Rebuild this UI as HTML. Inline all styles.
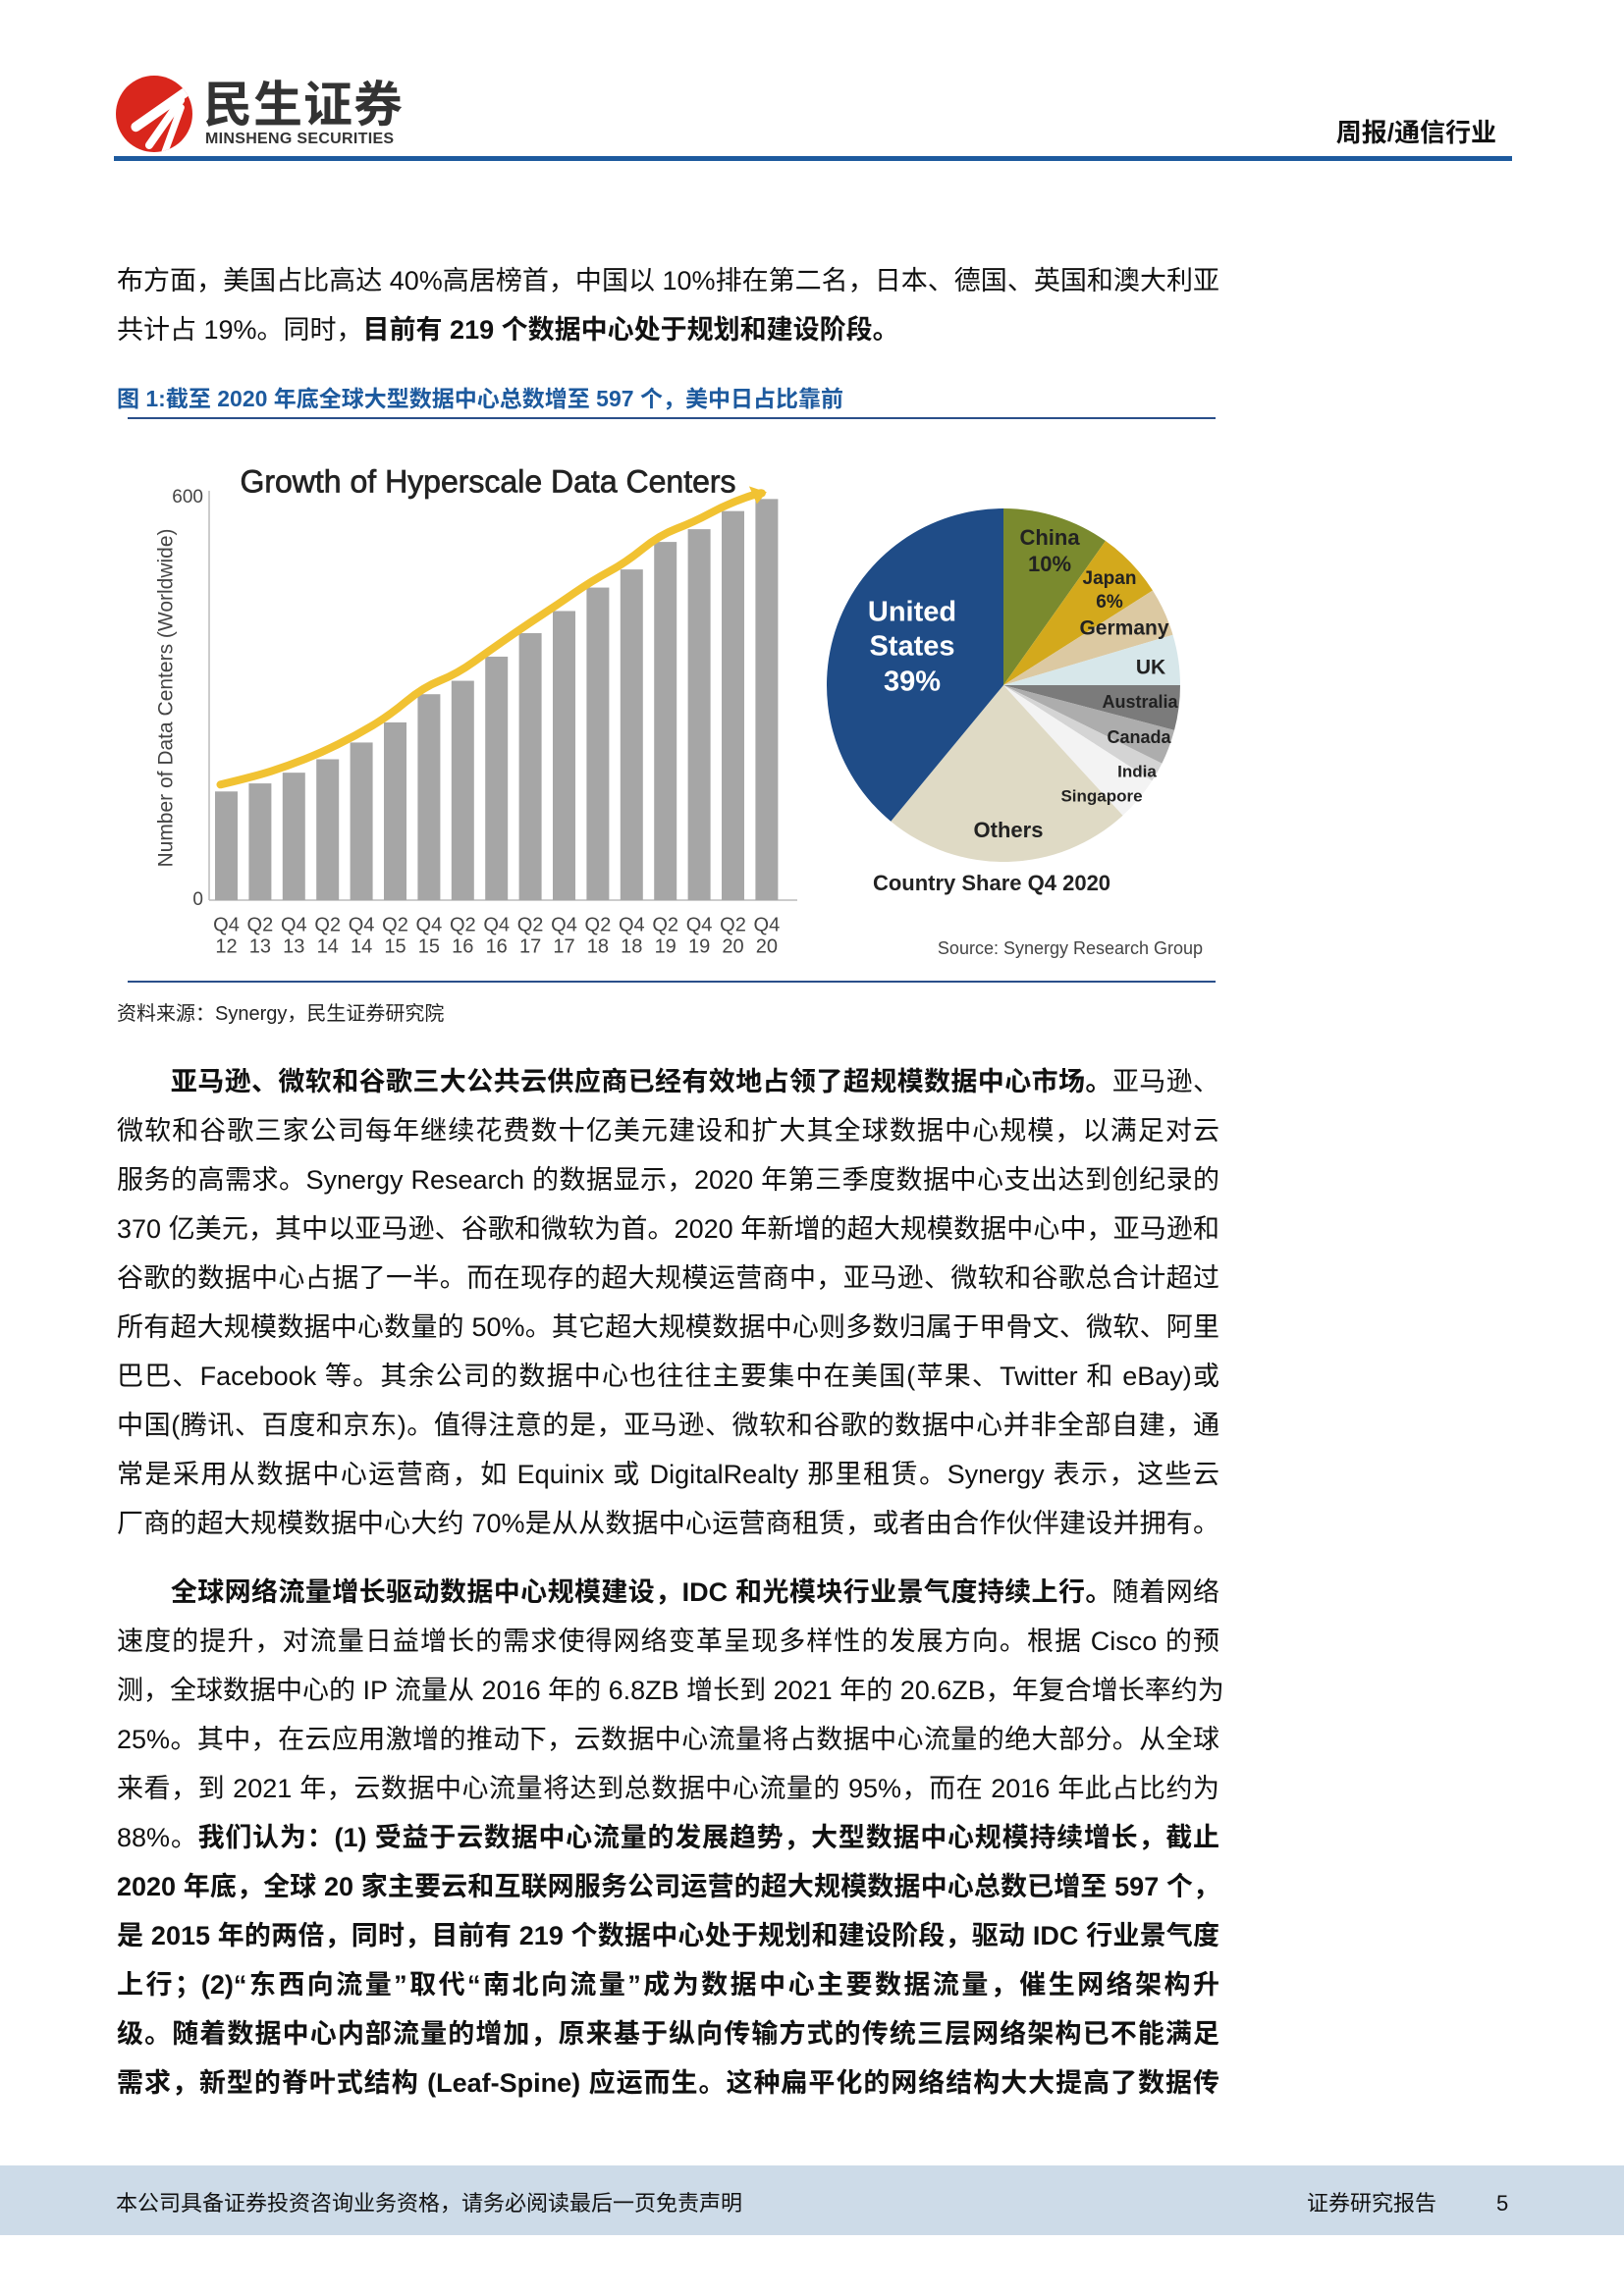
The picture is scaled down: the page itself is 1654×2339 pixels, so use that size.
<!DOCTYPE html>
<html><head><meta charset="utf-8">
<style>
body{margin:0;background:#fff;}
#page{position:relative;width:1654px;height:2339px;overflow:hidden;background:#fff;font-family:"Liberation Sans","Noto Sans CJK SC",sans-serif;color:#111;}
.ln{position:absolute;left:119px;width:1123px;font-size:27px;line-height:36px;height:36px;text-align:justify;text-align-last:justify;white-space:nowrap;overflow:visible;}
.ln.last{text-align-last:left;}
b{font-weight:bold;}
</style></head>
<body>
<div id="page">
  <div style="position:absolute;left:118px;top:77px;width:78px;height:78px;border-radius:50%;background:#d9261c;overflow:hidden;">
    <div style="position:absolute;left:10px;top:30px;width:70px;height:10px;background:#fff;transform:rotate(-35deg);border-radius:5px;"></div>
    <div style="position:absolute;left:18px;top:44px;width:64px;height:8px;background:#fff;transform:rotate(-55deg);border-radius:4px;"></div>
    <div style="position:absolute;left:30px;top:52px;width:56px;height:7px;background:#fff;transform:rotate(-70deg);border-radius:4px;"></div>
  </div>
  <div style="position:absolute;left:207px;top:76px;font-size:50px;font-weight:bold;color:#333;line-height:54px;letter-spacing:1px;font-family:'Noto Sans CJK SC',sans-serif;">民生证券</div>
  <div style="position:absolute;left:209px;top:133px;font-size:16px;font-weight:bold;color:#333;line-height:18px;letter-spacing:0.3px;">MINSHENG SECURITIES</div>
  <div style="position:absolute;right:130px;top:118px;font-size:26px;font-weight:bold;line-height:34px;color:#111;">周报/通信行业</div>
  <div style="position:absolute;left:116px;top:159px;width:1424px;height:5px;background:#1d5a9e;"></div>

  <div class="ln" style="top:268px;">布方面，美国占比高达 40%高居榜首，中国以 10%排在第二名，日本、德国、英国和澳大利亚</div>
  <div class="ln last" style="top:318px;">共计占 19%。同时，<b>目前有 219 个数据中心处于规划和建设阶段。</b></div>

  <div style="position:absolute;left:119px;top:390px;font-size:23px;font-weight:bold;color:#1d5a9e;line-height:32px;">图 1:截至 2020 年底全球大型数据中心总数增至 597 个，美中日占比靠前</div>
  <div style="position:absolute;left:130px;top:425px;width:1108px;height:2px;background:#2a4f8a;"></div>

  <svg id="chart" style="position:absolute;left:0;top:0;" width="1654" height="1010"></svg>
  <div style="position:absolute;left:130px;top:999px;width:1108px;height:2px;background:#2a4f8a;"></div>

  <div style="position:absolute;left:119px;top:1020px;font-size:20px;line-height:26px;color:#222;">资料来源：Synergy，民生证券研究院</div>

  <div class="ln" style="top:1084px;">　　<b>亚马逊、微软和谷歌三大公共云供应商已经有效地占领了超规模数据中心市场。</b>亚马逊、</div>
  <div class="ln" style="top:1134px;">微软和谷歌三家公司每年继续花费数十亿美元建设和扩大其全球数据中心规模，以满足对云</div>
  <div class="ln" style="top:1184px;">服务的高需求。Synergy Research 的数据显示，2020 年第三季度数据中心支出达到创纪录的</div>
  <div class="ln" style="top:1234px;">370 亿美元，其中以亚马逊、谷歌和微软为首。2020 年新增的超大规模数据中心中，亚马逊和</div>
  <div class="ln" style="top:1284px;">谷歌的数据中心占据了一半。而在现存的超大规模运营商中，亚马逊、微软和谷歌总合计超过</div>
  <div class="ln" style="top:1334px;">所有超大规模数据中心数量的 50%。其它超大规模数据中心则多数归属于甲骨文、微软、阿里</div>
  <div class="ln" style="top:1384px;">巴巴、Facebook 等。其余公司的数据中心也往往主要集中在美国(苹果、Twitter 和 eBay)或</div>
  <div class="ln" style="top:1434px;">中国(腾讯、百度和京东)。值得注意的是，亚马逊、微软和谷歌的数据中心并非全部自建，通</div>
  <div class="ln" style="top:1484px;">常是采用从数据中心运营商，如 Equinix 或 DigitalRealty 那里租赁。Synergy 表示，这些云</div>
  <div class="ln" style="top:1534px;">厂商的超大规模数据中心大约 70%是从从数据中心运营商租赁，或者由合作伙伴建设并拥有。</div>

  <div class="ln" style="top:1604px;">　　<b>全球网络流量增长驱动数据中心规模建设，IDC 和光模块行业景气度持续上行。</b>随着网络</div>
  <div class="ln" style="top:1654px;">速度的提升，对流量日益增长的需求使得网络变革呈现多样性的发展方向。根据 Cisco 的预</div>
  <div class="ln" style="top:1704px;">测，全球数据中心的 IP 流量从 2016 年的 6.8ZB 增长到 2021 年的 20.6ZB，年复合增长率约为</div>
  <div class="ln" style="top:1754px;">25%。其中，在云应用激增的推动下，云数据中心流量将占数据中心流量的绝大部分。从全球</div>
  <div class="ln" style="top:1804px;">来看，到 2021 年，云数据中心流量将达到总数据中心流量的 95%，而在 2016 年此占比约为</div>
  <div class="ln" style="top:1854px;">88%。<b>我们认为：(1) 受益于云数据中心流量的发展趋势，大型数据中心规模持续增长，截止</b></div>
  <div class="ln" style="top:1904px;"><b>2020 年底，全球 20 家主要云和互联网服务公司运营的超大规模数据中心总数已增至 597 个，</b></div>
  <div class="ln" style="top:1954px;"><b>是 2015 年的两倍，同时，目前有 219 个数据中心处于规划和建设阶段，驱动 IDC 行业景气度</b></div>
  <div class="ln" style="top:2004px;"><b>上行；(2)“东西向流量”取代“南北向流量”成为数据中心主要数据流量，催生网络架构升</b></div>
  <div class="ln" style="top:2054px;"><b>级。随着数据中心内部流量的增加，原来基于纵向传输方式的传统三层网络架构已不能满足</b></div>
  <div class="ln" style="top:2104px;"><b>需求，新型的脊叶式结构 (Leaf-Spine) 应运而生。这种扁平化的网络结构大大提高了数据传</b></div>

  <div style="position:absolute;left:0;top:2206px;width:1654px;height:71px;background:#cddbe8;"></div>
  <div style="position:absolute;left:118px;top:2229px;font-size:22px;line-height:32px;color:#111;">本公司具备证券投资咨询业务资格，请务必阅读最后一页免责声明</div>
  <div style="position:absolute;left:1331px;top:2229px;font-size:22px;line-height:32px;color:#111;">证券研究报告</div>
  <div style="position:absolute;left:1524px;top:2229px;font-size:22px;line-height:32px;color:#111;">5</div>
</div>
<script>
const categories=["Q4 12","Q2 13","Q4 13","Q2 14","Q4 14","Q2 15","Q4 15","Q2 16","Q4 16","Q2 17","Q4 17","Q2 18","Q4 18","Q2 19","Q4 19","Q2 20","Q4 20"];
const dcCounts=[162,174,190,210,235,265,307,327,363,398,431,466,493,534,553,580,598];
const yTicks=[0,600];
const pieLabels=["China","Japan","Germany","UK","Australia","Canada","India","Singapore","Others","United States"];
const pieShares=[9.8,6.2,4.4,4.6,4.1,3.2,1.8,4.1,22.8,39];

const NS="http://www.w3.org/2000/svg";
const svg=document.getElementById('chart');
function mk(tag,attrs,parent){const e=document.createElementNS(NS,tag);for(const k in attrs)e.setAttribute(k,attrs[k]);(parent||svg).appendChild(e);return e;}
const x0=219,pitch=34.4,bw=23,base=917,top600=507;
function yS(v){return base-(v/600)*(base-top600);}
function xC(i){return x0+bw/2+i*pitch;}

let t=mk('text',{x:497,y:493,'text-anchor':'middle','dominant-baseline':'middle','font-size':32,'font-family':'Liberation Sans, sans-serif',fill:'#222',stroke:'#222','stroke-width':0.7});
t.textContent='Growth of Hyperscale Data Centers';



let ax=mk('line',{x1:213,y1:500,x2:213,y2:base,stroke:'#bbb','stroke-width':1.5});


let bx=mk('line',{x1:213,y1:base,x2:812,y2:base,stroke:'#bbb','stroke-width':1.5});



yTicks.forEach(v=>{const e=mk('text',{x:207,y:yS(v),'text-anchor':'end','dominant-baseline':'middle','font-size':19,'font-family':'Liberation Sans, sans-serif',fill:'#444'});e.textContent=v;

});

let yl=mk('text',{x:0,y:0,transform:'translate(170,711) rotate(-90)','text-anchor':'middle','dominant-baseline':'middle','font-size':21,'font-family':'Liberation Sans, sans-serif',fill:'#444'});
yl.textContent='Number of Data Centers (Worldwide)';



dcCounts.forEach((v,i)=>{
  const r=mk('rect',{x:xC(i)-bw/2,y:yS(v),width:bw,height:base-yS(v),fill:'#a6a6a6'});
  
  
  const parts=categories[i].split(' ');
  parts.forEach((p,j)=>{const e=mk('text',{x:xC(i),y:943+j*22,'text-anchor':'middle','dominant-baseline':'middle','font-size':20,'font-family':'Liberation Sans, sans-serif',fill:'#444'});e.textContent=p;
  
  });
});

const pts=dcCounts.map((v,i)=>[xC(i)-6,yS(v)-7]);
pts.push([xC(dcCounts.length-1)-4,yS(dcCounts[dcCounts.length-1])-5]);
let d='M'+pts[0][0]+','+pts[0][1];
for(let i=1;i<pts.length-1;i++){const mx=(pts[i][0]+pts[i+1][0])/2,my=(pts[i][1]+pts[i+1][1])/2;d+=' Q'+pts[i][0]+','+pts[i][1]+' '+mx+','+my;}
const tr=mk('path',{d:d,fill:'none',stroke:'#f1c232','stroke-width':8,'stroke-linecap':'round'});


const ep=[xC(dcCounts.length-1)-2,yS(dcCounts[dcCounts.length-1])-5];
const ah=mk('polygon',{points:(ep[0]+2)+','+(ep[1]-2)+' '+(ep[0]-16)+','+(ep[1]-8)+' '+(ep[0]-8)+','+(ep[1]+10),fill:'#f1c232'});



const pcx=1022,pcy=698,pr=180;
const pieColors=['#7a8a2e','#d3a91c','#dcc9a2','#d7e7ea','#7b7b7b','#adadad','#d4d4d4','#f3f3f3','#dfdac5','#1f4c87'];
let acc=0;
pieShares.forEach((s,i)=>{
  const a0=acc/100*2*Math.PI,a1=(acc+s)/100*2*Math.PI;acc+=s;
  const p0=[pcx+pr*Math.sin(a0),pcy-pr*Math.cos(a0)],p1=[pcx+pr*Math.sin(a1),pcy-pr*Math.cos(a1)];
  const e=mk('path',{d:`M${pcx},${pcy} L${p0[0]},${p0[1]} A${pr},${pr} 0 ${s>50?1:0} 1 ${p1[0]},${p1[1]} Z`,fill:pieColors[i]});
  
  
});
const pl=[['China',1069,549,22,'#222'],['10%',1069,576,22,'#222'],['Japan',1130,590,19,'#222'],['6%',1130,614,19,'#222'],['Germany',1145,641,21,'#222'],['UK',1172,681,21,'#222'],['Australia',1161,716,18,'#222'],['Canada',1160,752,18,'#222'],['India',1158,787,17,'#222'],['Singapore',1122,812,17,'#222'],['Others',1027,847,22,'#222'],['United',929,625,29,'#fff'],['States',929,660,29,'#fff'],['39%',929,696,29,'#fff'],['Country Share Q4 2020',1010,901,22,'#222']];
pl.forEach(p=>{const e=mk('text',{x:p[1],y:p[2],'text-anchor':'middle','dominant-baseline':'middle','font-size':p[3],'font-weight':'bold','font-family':'Liberation Sans, sans-serif',fill:p[4]});e.textContent=p[0];

});
const sc=mk('text',{x:1090,y:967,'text-anchor':'middle','dominant-baseline':'middle','font-size':18,'font-family':'Liberation Sans, sans-serif',fill:'#444'});
sc.textContent='Source: Synergy Research Group';


</script>
</body></html>
